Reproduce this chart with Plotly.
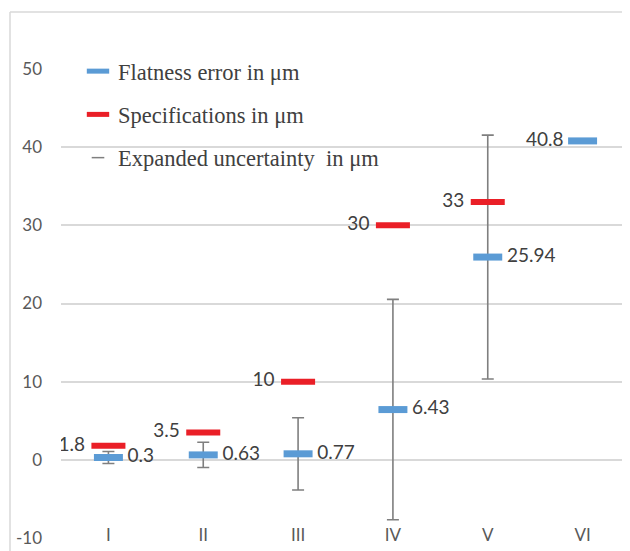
import plotly.graph_objects as go

categories = ["I", "II", "III", "IV", "V", "VI"]
flatness = [0.3, 0.63, 0.77, 6.43, 25.94, 40.8]
flatness_labels = ["0.3", "0.63", "0.77", "6.43", "25.94", "40.8"]
spec_categories = ["I", "II", "III", "IV", "V"]
specs = [1.8, 3.5, 10, 30, 33]
spec_labels = ["1.8", "3.5", "10", "30", "33"]
unc_categories = ["I", "II", "III", "IV", "V"]
uncertainty = [0.77, 1.62, 4.62, 14.1, 15.6]
y_ticks = [-10, 0, 10, 20, 30, 40, 50]
y_tick_labels = ["-10", "0", "10", "20", "30", "40", "50"]

BLUE = "#5B9BD5"
RED = "#EA1F27"
GRAY = "#7F7F7F"
LABEL = "#404040"
CLEAR = "rgba(0,0,0,0)"
LABEL_FONT = dict(family="Lato", size=19, color=LABEL)

fig = go.Figure()

# uncertainty (error bars)
fig.add_trace(go.Scatter(
    x=unc_categories, y=flatness[:len(unc_categories)],
    mode="markers", name="Expanded uncertainty  in \u03bcm",
    marker=dict(symbol="line-ew-open", size=9, line=dict(color=GRAY, width=1.5), color=GRAY),
    error_y=dict(type="data", array=uncertainty, visible=True, color=GRAY, thickness=1.6, width=6),
    legendgroup="c", legendrank=3, hoverinfo="skip",
))

# flatness dashes
fig.add_trace(go.Scatter(
    x=categories, y=flatness, mode="markers", name="Flatness error in \u03bcm",
    marker=dict(symbol="line-ew-open", size=20.7, line=dict(color=BLUE, width=7), color=BLUE),
    legendgroup="a", legendrank=1,
))
# flatness labels
fig.add_trace(go.Scatter(
    x=categories, y=flatness, mode="markers+text", showlegend=False, hoverinfo="skip",
    marker=dict(size=29, color=CLEAR, line=dict(width=0)),
    text=flatness_labels,
    textposition=["middle right"] * 5 + ["middle left"],
    textfont=LABEL_FONT,
))

# specification dashes
fig.add_trace(go.Scatter(
    x=spec_categories, y=specs, mode="markers", name="Specifications in \u03bcm",
    marker=dict(symbol="line-ew-open", size=24.3, line=dict(color=RED, width=6), color=RED),
    legendgroup="b", legendrank=2,
))
# specification labels
fig.add_trace(go.Scatter(
    x=spec_categories, y=specs, mode="markers+text", showlegend=False, hoverinfo="skip",
    marker=dict(size=36, color=CLEAR, line=dict(width=0)),
    text=spec_labels, textposition="middle left",
    textfont=LABEL_FONT,
))

# page offset of 8px (body margin) is compensated
W, H = 622, 543
L, T, B = 53, 61, 12.7
pw, ph = W - L, H - T - B

leg_left, leg_top = 70, 42

fig.update_layout(
    width=W, height=H,
    margin=dict(l=L, r=0, t=T, b=B),
    paper_bgcolor="white", plot_bgcolor="white",
    showlegend=True,
    legend=dict(
        x=(leg_left - L) / pw, y=1 + (T - leg_top) / ph, xanchor="left", yanchor="top",
        bgcolor="rgba(0,0,0,0)", borderwidth=0,
        font=dict(family="Liberation Serif", size=22.5, color=LABEL),
        traceorder="grouped", tracegroupgap=11,
    ),
    xaxis=dict(
        type="category", categoryorder="array", categoryarray=categories,
        range=[-0.5, 5.5], showgrid=False, zeroline=False, showline=False,
        ticks="", tickfont=dict(family="Lato", size=17, color="#595959"),
        ticklabelstandoff=-15,
    ),
    yaxis=dict(
        range=[-10, 50], tickvals=y_ticks, ticktext=y_tick_labels,
        showgrid=True, gridcolor="#D9D9D9", gridwidth=1.5,
        zeroline=False, showline=False, ticks="",
        tickfont=dict(family="Lato", size=17, color="#595959"),
        ticklabelstandoff=18,
    ),
    shapes=[
        dict(type="line", xref="paper", yref="paper",
             x0=(2 - L) / pw, x1=(2 - L) / pw, y0=-0.1, y1=1 + (T - 4) / ph,
             line=dict(color="#D9D9D9", width=1.5)),
        dict(type="line", xref="paper", yref="paper",
             x0=(2 - L) / pw, x1=1.1, y0=1 + (T - 4) / ph, y1=1 + (T - 4) / ph,
             line=dict(color="#D9D9D9", width=1.5)),
    ],
)

fig.write_html("out.html")
